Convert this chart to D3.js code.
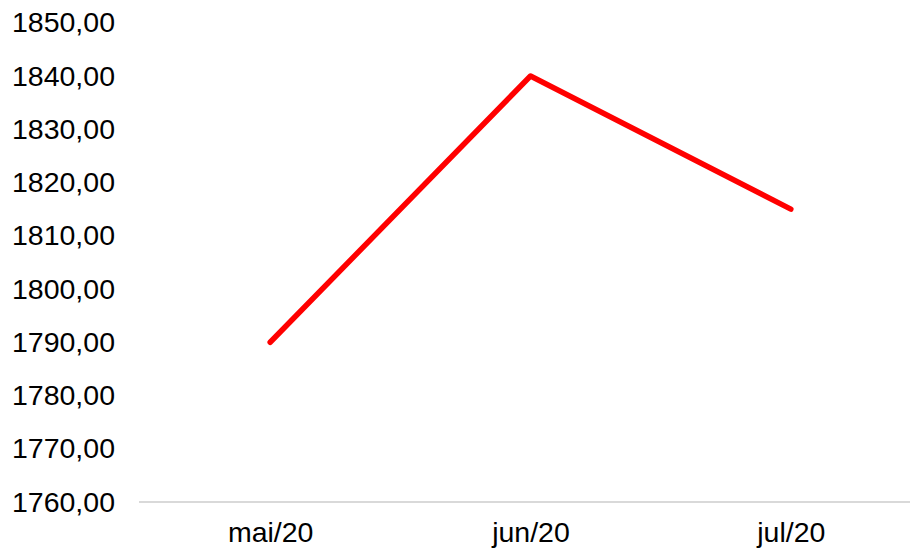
<!DOCTYPE html>
<html>
<head>
<meta charset="utf-8">
<script src="https://cdn.jsdelivr.net/npm/d3@7"></script>
<style>
  body { margin: 0; background: #fff; }
  text { font-family: "Liberation Sans", Arial, sans-serif; }
</style>
</head>
<body>
<svg width="910" height="553"></svg>
<script>
// dados
var meses = ["mai/20", "jun/20", "jul/20"];
var valores = [1790, 1840, 1815];
var ticksY = [1760, 1770, 1780, 1790, 1800, 1810, 1820, 1830, 1840, 1850];

const svg = d3.select("svg");

// escalas
const x = d3.scalePoint()
    .domain(meses)
    .range([140, 921])
    .padding(0.5);

const y = d3.scaleLinear()
    .domain([1760, 1840])
    .range([502, 76]);

const fmt = v => d3.format(".2f")(v).replace(".", ",");

// eixo Y (sem linha)
const eixoY = svg.append("g")
    .attr("transform", "translate(115,0)")
    .call(d3.axisLeft(y).tickValues(ticksY).tickFormat(fmt).tickSize(0).tickPadding(0));
eixoY.select(".domain").remove();
eixoY.selectAll("text")
    .attr("font-size", 28.5)
    .attr("fill", "#000")
    .attr("font-family", "Liberation Sans, Arial, sans-serif");

// linha base
svg.append("line")
    .attr("x1", 139).attr("x2", 910)
    .attr("y1", y(1760)).attr("y2", y(1760))
    .attr("stroke", "#d9d9d9")
    .attr("stroke-width", 2);

// eixo X
const eixoX = svg.append("g")
    .attr("transform", "translate(0," + y(1760) + ")")
    .call(d3.axisBottom(x).tickSize(0).tickPadding(20));
eixoX.select(".domain").remove();
eixoX.selectAll("text")
    .attr("font-size", 28.5)
    .attr("fill", "#000")
    .attr("font-family", "Liberation Sans, Arial, sans-serif");

// linha da série
const linha = d3.line()
    .x((d, i) => x(meses[i]))
    .y(d => y(d));

svg.append("path")
    .datum(valores)
    .attr("d", linha)
    .attr("fill", "none")
    .attr("stroke", "#ff0000")
    .attr("stroke-width", 5.5)
    .attr("stroke-linecap", "round")
    .attr("stroke-linejoin", "round");
</script>
</body>
</html>
